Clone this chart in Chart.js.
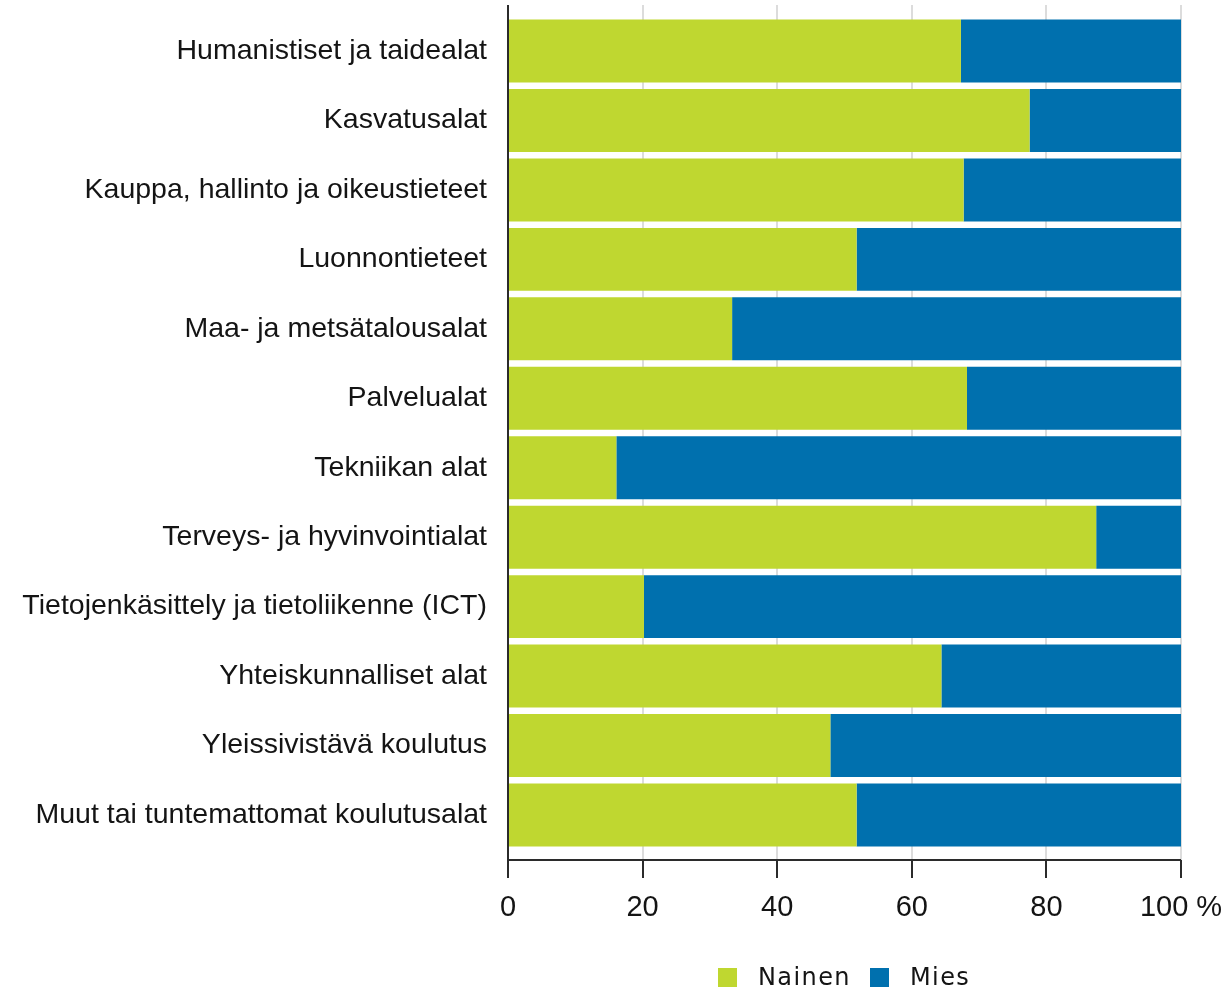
<!DOCTYPE html>
<html>
<head>
<meta charset="utf-8">
<script src="https://cdn.jsdelivr.net/npm/chart.js@4"></script>
<style>
  html, body { margin: 0; padding: 0; background: #fff; }
  #wrap { width: 1225px; height: 990px; position: relative; }
</style>
</head>
<body>
<div id="wrap"><canvas id="chart" width="1225" height="990"></canvas></div>
<script>
const categories = [
  'Humanistiset ja taidealat',
  'Kasvatusalat',
  'Kauppa, hallinto ja oikeustieteet',
  'Luonnontieteet',
  'Maa- ja metsätalousalat',
  'Palvelualat',
  'Tekniikan alat',
  'Terveys- ja hyvinvointialat',
  'Tietojenkäsittely ja tietoliikenne (ICT)',
  'Yhteiskunnalliset alat',
  'Yleissivistävä koulutus',
  'Muut tai tuntemattomat koulutusalat'
];

const nainen = [67.3, 77.5, 67.7, 51.8, 33.3, 68.2, 16.1, 87.4, 20.2, 64.4, 47.9, 51.8];
const mies   = [32.7, 22.5, 32.3, 48.2, 66.7, 31.8, 83.9, 12.6, 79.8, 35.6, 52.1, 48.2];

const seriesNames = ['Nainen', 'Mies'];
const xTicks = [0, 20, 40, 60, 80, 100];

const GREEN = '#bfd730';
const BLUE  = '#0070ae';
const TEXT  = '#141414';
const AXIS  = '#2b2b2b';
const GRID  = '#dcdcdc';

// grid above/below the bars and the axis lines reach past the chart area
const axesPlugin = {
  id: 'axesPlugin',
  beforeDatasetsDraw(chart) {
    const { ctx } = chart;
    const x = chart.scales.x;
    ctx.save();
    ctx.strokeStyle = GRID;
    ctx.lineWidth = 2;
    xTicks.forEach(v => {
      if (v === 0) return;
      const px = Math.round(x.getPixelForValue(v));
      ctx.beginPath();
      ctx.moveTo(px, 5);
      ctx.lineTo(px, 860);
      ctx.stroke();
    });
    ctx.restore();
  },
  afterDatasetsDraw(chart) {
    const { ctx } = chart;
    const x = chart.scales.x;
    const left = Math.round(x.getPixelForValue(0));
    const right = Math.round(x.getPixelForValue(100));
    ctx.save();
    ctx.strokeStyle = AXIS;
    ctx.lineWidth = 2;
    ctx.beginPath();
    ctx.moveTo(left, 5);
    ctx.lineTo(left, 878);
    ctx.moveTo(left, 860);
    ctx.lineTo(right, 860);
    xTicks.forEach(v => {
      const px = Math.round(x.getPixelForValue(v));
      ctx.moveTo(px, 860);
      ctx.lineTo(px, 878);
    });
    ctx.stroke();
    ctx.restore();
  },
  afterDraw(chart) {
    // legend
    const { ctx } = chart;
    const items = [
      { label: seriesNames[0], color: GREEN, box: 718, text: 758 },
      { label: seriesNames[1], color: BLUE, box: 870, text: 910 }
    ];
    ctx.save();
    ctx.font = '24px "DejaVu Sans"';
    ctx.letterSpacing = '1.4px';
    ctx.textBaseline = 'middle';
    items.forEach(it => {
      ctx.fillStyle = it.color;
      ctx.fillRect(it.box, 968, 19, 19);
      ctx.fillStyle = TEXT;
      ctx.fillText(it.label, it.text, 979);
    });
    ctx.restore();
  }
};

new Chart(document.getElementById('chart'), {
  type: 'bar',
  data: {
    labels: categories,
    datasets: [
      { label: seriesNames[0], data: nainen, backgroundColor: GREEN },
      { label: seriesNames[1], data: mies, backgroundColor: BLUE }
    ]
  },
  options: {
    indexAxis: 'y',
    responsive: false,
    animation: false,
    layout: { padding: { top: 16.3, right: 44, bottom: 0, left: 0 } },
    datasets: { bar: { barPercentage: 0.907, categoryPercentage: 1 } },
    plugins: {
      legend: { display: false },
      tooltip: { enabled: false }
    },
    scales: {
      x: {
        stacked: true,
        min: 0,
        max: 100,
        afterFit: s => { s.height = 140.3; s.paddingLeft = 0; s.paddingRight = 0; },
        afterBuildTicks: s => { s.ticks = xTicks.map(v => ({ value: v })); },
        grid: { display: false, drawTicks: false },
        border: { display: false },
        ticks: {
          padding: 41,
          color: TEXT,
          font: { family: '"Liberation Sans", Arial', size: 29 },
          maxRotation: 0,
          callback: v => v === 100 ? '100 %' : String(v)
        }
      },
      y: {
        stacked: true,
        afterFit: s => { s.width = 508; s.paddingTop = 0; s.paddingBottom = 0; },
        grid: { display: false, drawTicks: false },
        border: { display: false },
        ticks: {
          padding: 21,
          color: TEXT,
          font: { family: '"Liberation Sans", Arial', size: 28.5 }
        }
      }
    }
  },
  plugins: [axesPlugin]
});
</script>
</body>
</html>
